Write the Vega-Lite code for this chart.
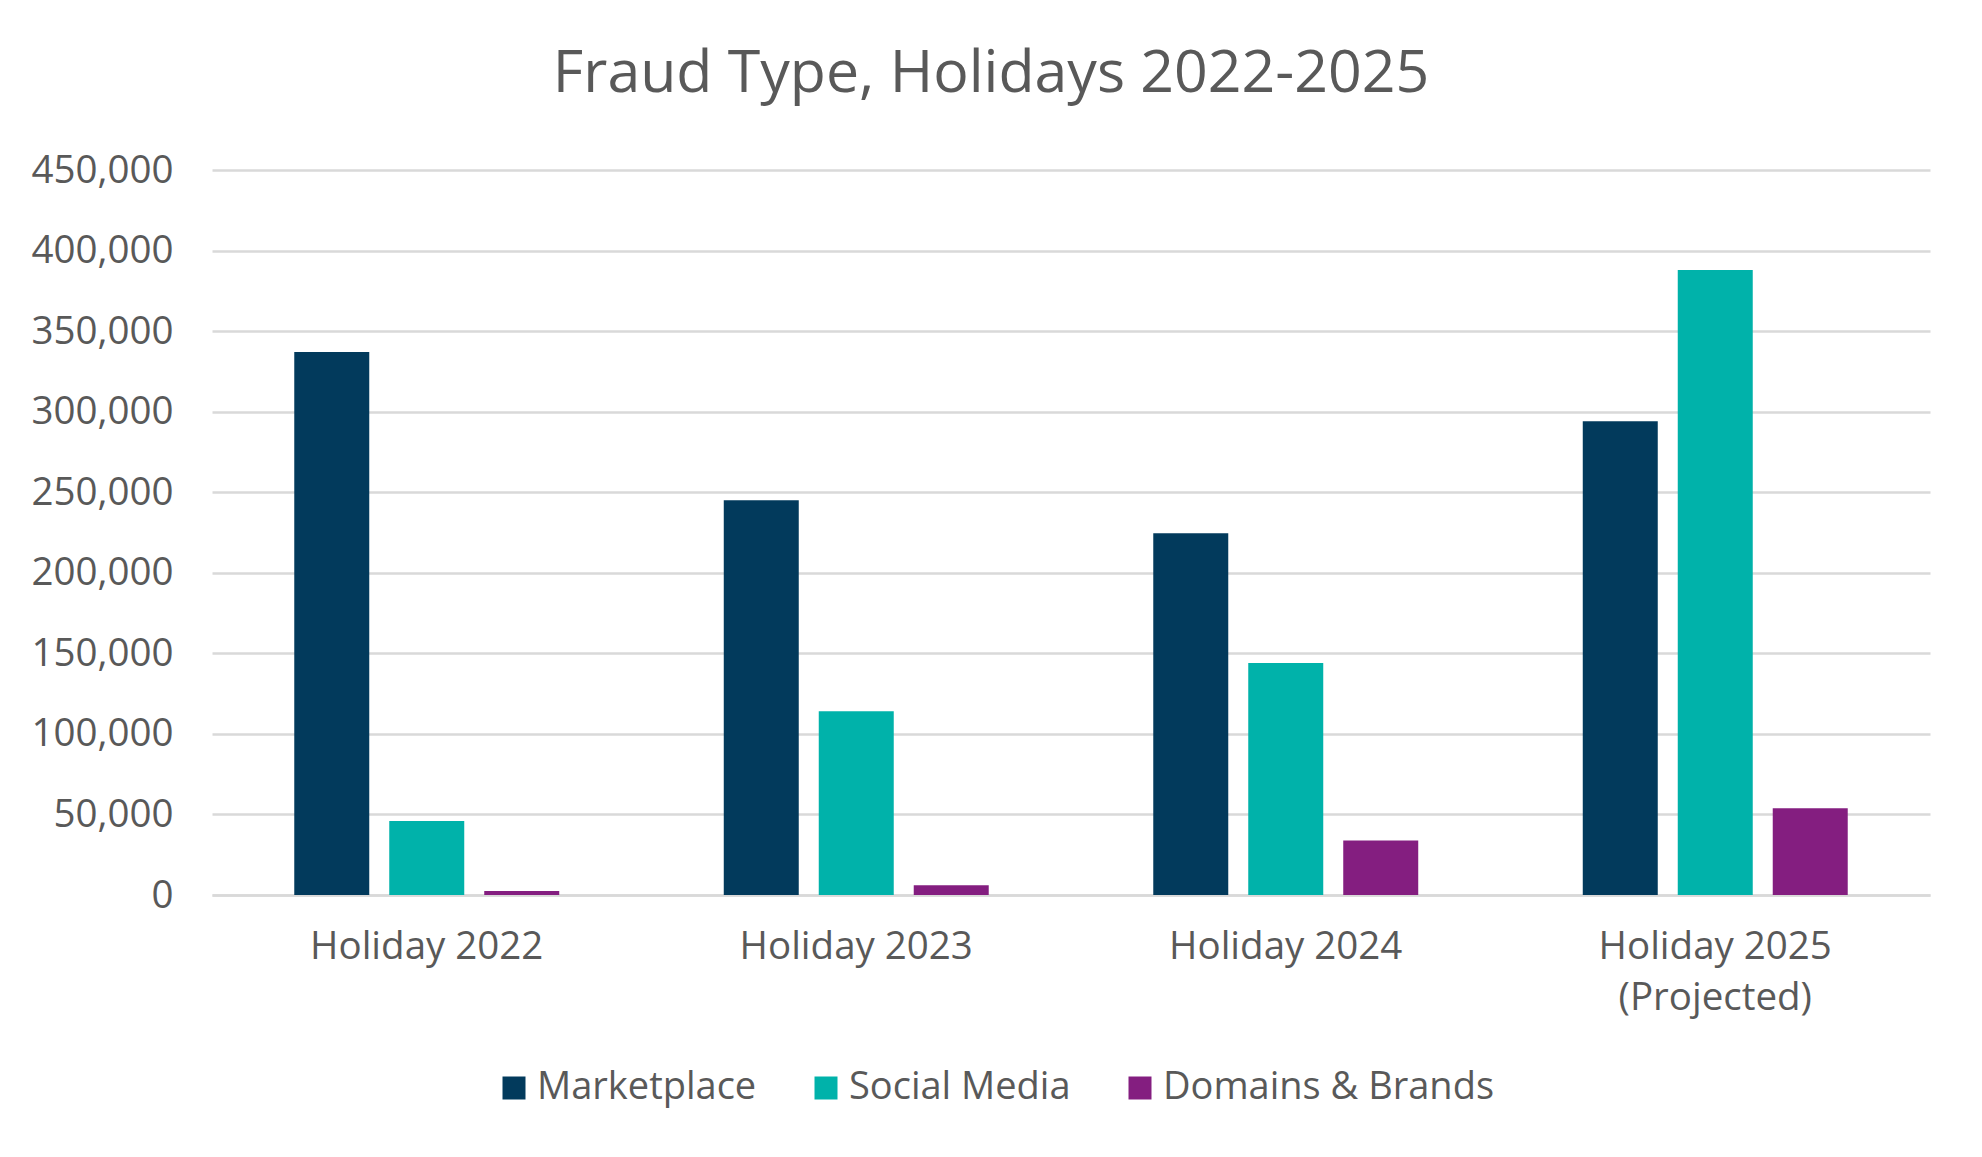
{
  "$schema": "https://vega.github.io/schema/vega-lite/v6.json",
  "width": 1718,
  "height": 725,
  "autosize": {"type": "none"},
  "padding": {"left": 212, "top": 170, "right": 52, "bottom": 262},
  "background": "white",
  "config": {
    "view": {"stroke": null},
    "font": "Open Sans"
  },
  "title": {
    "text": "Fraud Type, Holidays 2022-2025",
    "font": "Open Sans",
    "fontSize": 59,
    "fontWeight": "normal",
    "color": "#595959",
    "anchor": "middle",
    "baseline": "alphabetic",
    "offset": 0,
    "dx": -80
  },
  "data": {
    "values": [
      {"period": "Holiday 2022", "type": "Marketplace", "count": 337000},
      {"period": "Holiday 2022", "type": "Social Media", "count": 46000},
      {"period": "Holiday 2022", "type": "Domains & Brands", "count": 2500},
      {"period": "Holiday 2023", "type": "Marketplace", "count": 245000},
      {"period": "Holiday 2023", "type": "Social Media", "count": 114000},
      {"period": "Holiday 2023", "type": "Domains & Brands", "count": 6000},
      {"period": "Holiday 2024", "type": "Marketplace", "count": 224500},
      {"period": "Holiday 2024", "type": "Social Media", "count": 144000},
      {"period": "Holiday 2024", "type": "Domains & Brands", "count": 33800},
      {"period": "Holiday 2025 (Projected)", "type": "Marketplace", "count": 294000},
      {"period": "Holiday 2025 (Projected)", "type": "Social Media", "count": 388000},
      {"period": "Holiday 2025 (Projected)", "type": "Domains & Brands", "count": 53800}
    ]
  },
  "mark": {"type": "bar"},
  "encoding": {
    "x": {
      "field": "period",
      "type": "nominal",
      "sort": ["Holiday 2022", "Holiday 2023", "Holiday 2024", "Holiday 2025 (Projected)"],
      "scale": {"paddingInner": 0, "paddingOuter": 0},
      "axis": {
        "title": null,
        "labelAngle": 0,
        "labelFont": "Open Sans",
        "labelFontSize": 38.5,
        "labelColor": "#595959",
        "labelPadding": 33,
        "labelLineHeight": 51,
        "labelLimit": 0,
        "labelExpr": "datum.label == 'Holiday 2025 (Projected)' ? ['Holiday 2025', '(Projected)'] : datum.label",
        "ticks": false,
        "tickSize": 0,
        "domain": true,
        "domainColor": "#D9D9D9",
        "domainWidth": 2.5,
        "grid": false
      }
    },
    "xOffset": {
      "field": "type",
      "type": "nominal",
      "sort": ["Marketplace", "Social Media", "Domains & Brands"],
      "scale": {"paddingInner": 0.2105, "paddingOuter": 0.866}
    },
    "y": {
      "field": "count",
      "type": "quantitative",
      "scale": {"domain": [0, 450000], "nice": false},
      "axis": {
        "title": null,
        "values": [0, 50000, 100000, 150000, 200000, 250000, 300000, 350000, 400000, 450000],
        "format": ",.0f",
        "labelFont": "Open Sans",
        "labelFontSize": 38.5,
        "labelColor": "#595959",
        "labelPadding": 39,
        "labelLimit": 0,
        "ticks": false,
        "tickSize": 0,
        "domain": false,
        "grid": true,
        "gridColor": "#D9D9D9",
        "gridWidth": 2.5
      }
    },
    "color": {
      "field": "type",
      "type": "nominal",
      "sort": ["Marketplace", "Social Media", "Domains & Brands"],
      "scale": {
        "domain": ["Marketplace", "Social Media", "Domains & Brands"],
        "range": ["#023A5C", "#00B2AA", "#841E80"]
      },
      "legend": {
        "title": null,
        "orient": "none",
        "legendX": 283,
        "legendY": 899,
        "direction": "horizontal",
        "symbolType": "square",
        "symbolSize": 529,
        "symbolStrokeWidth": 0,
        "labelFont": "Open Sans",
        "labelFontSize": 38,
        "labelColor": "#595959",
        "labelOffset": 4,
        "labelLimit": 0,
        "columnPadding": 50
      }
    }
  }
}
